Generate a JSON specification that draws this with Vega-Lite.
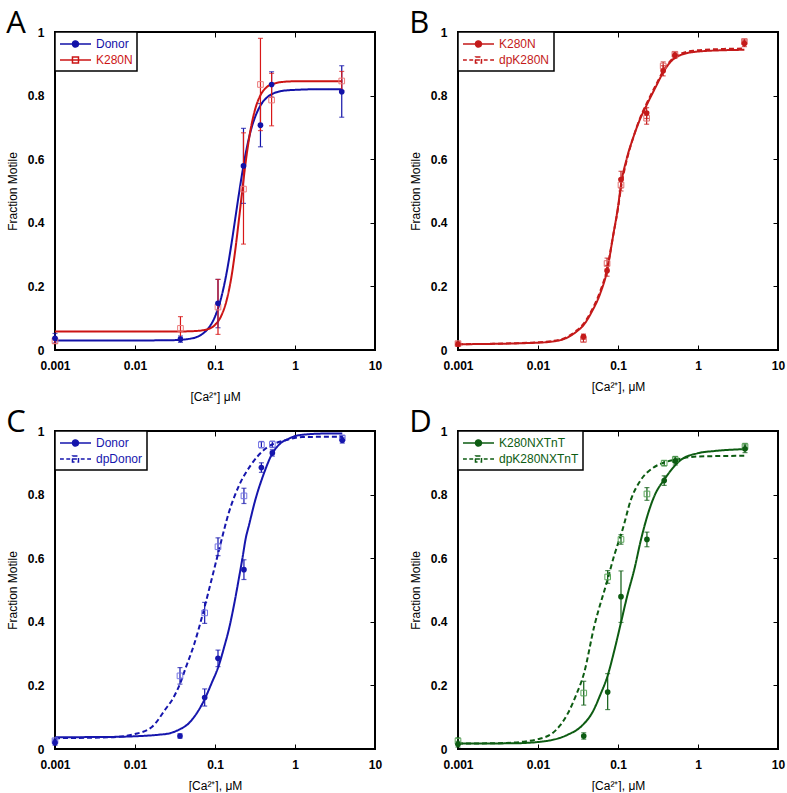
{
  "$schema": "https://vega.github.io/schema/vega-lite/v6.json",
  "background": "white",
  "padding": {"left": 5, "top": 7, "right": 0, "bottom": 0},
  "resolve": {"scale": {"color": "independent", "strokeDash": "independent"}, "legend": {"color": "independent", "strokeDash": "independent"}},
  "datasets": {
    "curves": [
      {"p":"A","s":"Donor","x":0.001,"y":0.030},{"p":"A","s":"Donor","x":0.01,"y":0.030},{"p":"A","s":"Donor","x":0.03,"y":0.031},{"p":"A","s":"Donor","x":0.05,"y":0.036},{"p":"A","s":"Donor","x":0.07,"y":0.051},{"p":"A","s":"Donor","x":0.08,"y":0.064},{"p":"A","s":"Donor","x":0.1,"y":0.105},{"p":"A","s":"Donor","x":0.12,"y":0.166},{"p":"A","s":"Donor","x":0.14,"y":0.244},{"p":"A","s":"Donor","x":0.16,"y":0.331},{"p":"A","s":"Donor","x":0.18,"y":0.417},{"p":"A","s":"Donor","x":0.2,"y":0.494},{"p":"A","s":"Donor","x":0.22,"y":0.56},{"p":"A","s":"Donor","x":0.25,"y":0.636},{"p":"A","s":"Donor","x":0.28,"y":0.69},{"p":"A","s":"Donor","x":0.32,"y":0.735},{"p":"A","s":"Donor","x":0.37,"y":0.769},{"p":"A","s":"Donor","x":0.45,"y":0.795},{"p":"A","s":"Donor","x":0.55,"y":0.808},{"p":"A","s":"Donor","x":0.7,"y":0.815},{"p":"A","s":"Donor","x":1,"y":0.818},{"p":"A","s":"Donor","x":2,"y":0.82},{"p":"A","s":"Donor","x":3.9,"y":0.82},
      {"p":"A","s":"K280N","x":0.001,"y":0.058},{"p":"A","s":"K280N","x":0.01,"y":0.058},{"p":"A","s":"K280N","x":0.03,"y":0.058},{"p":"A","s":"K280N","x":0.05,"y":0.059},{"p":"A","s":"K280N","x":0.07,"y":0.062},{"p":"A","s":"K280N","x":0.08,"y":0.065},{"p":"A","s":"K280N","x":0.1,"y":0.079},{"p":"A","s":"K280N","x":0.12,"y":0.108},{"p":"A","s":"K280N","x":0.14,"y":0.157},{"p":"A","s":"K280N","x":0.16,"y":0.228},{"p":"A","s":"K280N","x":0.18,"y":0.318},{"p":"A","s":"K280N","x":0.2,"y":0.414},{"p":"A","s":"K280N","x":0.22,"y":0.505},{"p":"A","s":"K280N","x":0.25,"y":0.618},{"p":"A","s":"K280N","x":0.28,"y":0.696},{"p":"A","s":"K280N","x":0.32,"y":0.76},{"p":"A","s":"K280N","x":0.37,"y":0.801},{"p":"A","s":"K280N","x":0.45,"y":0.828},{"p":"A","s":"K280N","x":0.55,"y":0.838},{"p":"A","s":"K280N","x":0.7,"y":0.843},{"p":"A","s":"K280N","x":1,"y":0.845},{"p":"A","s":"K280N","x":2,"y":0.845},{"p":"A","s":"K280N","x":3.9,"y":0.845},
      {"p":"B","s":"K280N","x":0.001,"y":0.018},{"p":"B","s":"K280N","x":0.01,"y":0.023},{"p":"B","s":"K280N","x":0.019,"y":0.031},{"p":"B","s":"K280N","x":0.03,"y":0.057},{"p":"B","s":"K280N","x":0.037,"y":0.078},{"p":"B","s":"K280N","x":0.047,"y":0.12},{"p":"B","s":"K280N","x":0.06,"y":0.178},{"p":"B","s":"K280N","x":0.073,"y":0.249},{"p":"B","s":"K280N","x":0.087,"y":0.36},{"p":"B","s":"K280N","x":0.1,"y":0.45},{"p":"B","s":"K280N","x":0.109,"y":0.52},{"p":"B","s":"K280N","x":0.128,"y":0.6},{"p":"B","s":"K280N","x":0.156,"y":0.67},{"p":"B","s":"K280N","x":0.188,"y":0.725},{"p":"B","s":"K280N","x":0.228,"y":0.77},{"p":"B","s":"K280N","x":0.3,"y":0.83},{"p":"B","s":"K280N","x":0.367,"y":0.873},{"p":"B","s":"K280N","x":0.514,"y":0.918},{"p":"B","s":"K280N","x":0.87,"y":0.937},{"p":"B","s":"K280N","x":2.27,"y":0.943},{"p":"B","s":"K280N","x":3.8,"y":0.944},
      {"p":"B","s":"dpK280N","x":0.001,"y":0.018},{"p":"B","s":"dpK280N","x":0.01,"y":0.024},{"p":"B","s":"dpK280N","x":0.019,"y":0.033},{"p":"B","s":"dpK280N","x":0.03,"y":0.06},{"p":"B","s":"dpK280N","x":0.037,"y":0.082},{"p":"B","s":"dpK280N","x":0.047,"y":0.125},{"p":"B","s":"dpK280N","x":0.06,"y":0.185},{"p":"B","s":"dpK280N","x":0.073,"y":0.255},{"p":"B","s":"dpK280N","x":0.087,"y":0.36},{"p":"B","s":"dpK280N","x":0.1,"y":0.445},{"p":"B","s":"dpK280N","x":0.109,"y":0.51},{"p":"B","s":"dpK280N","x":0.128,"y":0.595},{"p":"B","s":"dpK280N","x":0.156,"y":0.67},{"p":"B","s":"dpK280N","x":0.188,"y":0.728},{"p":"B","s":"dpK280N","x":0.228,"y":0.775},{"p":"B","s":"dpK280N","x":0.3,"y":0.835},{"p":"B","s":"dpK280N","x":0.367,"y":0.877},{"p":"B","s":"dpK280N","x":0.514,"y":0.922},{"p":"B","s":"dpK280N","x":0.87,"y":0.941},{"p":"B","s":"dpK280N","x":2.27,"y":0.947},{"p":"B","s":"dpK280N","x":3.8,"y":0.948},
      {"p":"C","s":"Donor","x":0.001,"y":0.037},{"p":"C","s":"Donor","x":0.005,"y":0.038},{"p":"C","s":"Donor","x":0.01,"y":0.04},{"p":"C","s":"Donor","x":0.02,"y":0.045},{"p":"C","s":"Donor","x":0.0266,"y":0.049},{"p":"C","s":"Donor","x":0.035,"y":0.06},{"p":"C","s":"Donor","x":0.047,"y":0.081},{"p":"C","s":"Donor","x":0.06,"y":0.115},{"p":"C","s":"Donor","x":0.075,"y":0.159},{"p":"C","s":"Donor","x":0.09,"y":0.205},{"p":"C","s":"Donor","x":0.112,"y":0.264},{"p":"C","s":"Donor","x":0.13,"y":0.32},{"p":"C","s":"Donor","x":0.15,"y":0.379},{"p":"C","s":"Donor","x":0.175,"y":0.46},{"p":"C","s":"Donor","x":0.2,"y":0.54},{"p":"C","s":"Donor","x":0.22,"y":0.599},{"p":"C","s":"Donor","x":0.242,"y":0.662},{"p":"C","s":"Donor","x":0.266,"y":0.704},{"p":"C","s":"Donor","x":0.322,"y":0.787},{"p":"C","s":"Donor","x":0.4,"y":0.86},{"p":"C","s":"Donor","x":0.52,"y":0.929},{"p":"C","s":"Donor","x":0.65,"y":0.96},{"p":"C","s":"Donor","x":0.84,"y":0.976},{"p":"C","s":"Donor","x":1,"y":0.984},{"p":"C","s":"Donor","x":1.5,"y":0.99},{"p":"C","s":"Donor","x":2.5,"y":0.992},{"p":"C","s":"Donor","x":3.9,"y":0.992},
      {"p":"C","s":"dpDonor","x":0.001,"y":0.034},{"p":"C","s":"dpDonor","x":0.005,"y":0.037},{"p":"C","s":"dpDonor","x":0.01,"y":0.047},{"p":"C","s":"dpDonor","x":0.0164,"y":0.07},{"p":"C","s":"dpDonor","x":0.024,"y":0.125},{"p":"C","s":"dpDonor","x":0.03,"y":0.16},{"p":"C","s":"dpDonor","x":0.0365,"y":0.205},{"p":"C","s":"dpDonor","x":0.043,"y":0.255},{"p":"C","s":"dpDonor","x":0.055,"y":0.33},{"p":"C","s":"dpDonor","x":0.073,"y":0.44},{"p":"C","s":"dpDonor","x":0.09,"y":0.53},{"p":"C","s":"dpDonor","x":0.112,"y":0.625},{"p":"C","s":"dpDonor","x":0.15,"y":0.746},{"p":"C","s":"dpDonor","x":0.2,"y":0.829},{"p":"C","s":"dpDonor","x":0.279,"y":0.892},{"p":"C","s":"dpDonor","x":0.43,"y":0.945},{"p":"C","s":"dpDonor","x":0.76,"y":0.971},{"p":"C","s":"dpDonor","x":1.23,"y":0.981},{"p":"C","s":"dpDonor","x":3.9,"y":0.982},
      {"p":"D","s":"K280NXTnT","x":0.001,"y":0.017},{"p":"D","s":"K280NXTnT","x":0.005,"y":0.018},{"p":"D","s":"K280NXTnT","x":0.01,"y":0.022},{"p":"D","s":"K280NXTnT","x":0.0236,"y":0.045},{"p":"D","s":"K280NXTnT","x":0.035,"y":0.072},{"p":"D","s":"K280NXTnT","x":0.0483,"y":0.117},{"p":"D","s":"K280NXTnT","x":0.06,"y":0.17},{"p":"D","s":"K280NXTnT","x":0.0743,"y":0.231},{"p":"D","s":"K280NXTnT","x":0.09,"y":0.31},{"p":"D","s":"K280NXTnT","x":0.109,"y":0.398},{"p":"D","s":"K280NXTnT","x":0.13,"y":0.48},{"p":"D","s":"K280NXTnT","x":0.16,"y":0.565},{"p":"D","s":"K280NXTnT","x":0.194,"y":0.659},{"p":"D","s":"K280NXTnT","x":0.234,"y":0.735},{"p":"D","s":"K280NXTnT","x":0.29,"y":0.8},{"p":"D","s":"K280NXTnT","x":0.378,"y":0.847},{"p":"D","s":"K280NXTnT","x":0.61,"y":0.909},{"p":"D","s":"K280NXTnT","x":0.99,"y":0.93},{"p":"D","s":"K280NXTnT","x":1.59,"y":0.937},{"p":"D","s":"K280NXTnT","x":3.87,"y":0.943},
      {"p":"D","s":"dpK280NXTnT","x":0.001,"y":0.017},{"p":"D","s":"dpK280NXTnT","x":0.004,"y":0.019},{"p":"D","s":"dpK280NXTnT","x":0.007,"y":0.024},{"p":"D","s":"dpK280NXTnT","x":0.01,"y":0.031},{"p":"D","s":"dpK280NXTnT","x":0.015,"y":0.049},{"p":"D","s":"dpK280NXTnT","x":0.019,"y":0.075},{"p":"D","s":"dpK280NXTnT","x":0.0236,"y":0.112},{"p":"D","s":"dpK280NXTnT","x":0.03,"y":0.17},{"p":"D","s":"dpK280NXTnT","x":0.0373,"y":0.235},{"p":"D","s":"dpK280NXTnT","x":0.0507,"y":0.388},{"p":"D","s":"dpK280NXTnT","x":0.0743,"y":0.534},{"p":"D","s":"dpK280NXTnT","x":0.09,"y":0.61},{"p":"D","s":"dpK280NXTnT","x":0.104,"y":0.659},{"p":"D","s":"dpK280NXTnT","x":0.114,"y":0.69},{"p":"D","s":"dpK280NXTnT","x":0.145,"y":0.784},{"p":"D","s":"dpK280NXTnT","x":0.194,"y":0.847},{"p":"D","s":"dpK280NXTnT","x":0.27,"y":0.883},{"p":"D","s":"dpK280NXTnT","x":0.378,"y":0.901},{"p":"D","s":"dpK280NXTnT","x":0.555,"y":0.911},{"p":"D","s":"dpK280NXTnT","x":0.99,"y":0.92},{"p":"D","s":"dpK280NXTnT","x":3.87,"y":0.922}
    ],
    "pts": [
      {"p":"A","s":"Donor","x":0.001,"y":0.037,"lo":0.022,"hi":0.052},{"p":"A","s":"Donor","x":0.037,"y":0.034,"lo":0.024,"hi":0.044},{"p":"A","s":"Donor","x":0.109,"y":0.147,"lo":0.07,"hi":0.222},{"p":"A","s":"Donor","x":0.227,"y":0.579,"lo":0.461,"hi":0.697},{"p":"A","s":"Donor","x":0.37,"y":0.707,"lo":0.639,"hi":0.775},{"p":"A","s":"Donor","x":0.51,"y":0.835,"lo":0.795,"hi":0.875},{"p":"A","s":"Donor","x":3.84,"y":0.812,"lo":0.732,"hi":0.894},
      {"p":"A","s":"K280N","x":0.001,"y":0.029,"lo":0.02,"hi":0.038},{"p":"A","s":"K280N","x":0.037,"y":0.068,"lo":0.03,"hi":0.105},{"p":"A","s":"K280N","x":0.109,"y":0.135,"lo":0.049,"hi":0.222},{"p":"A","s":"K280N","x":0.227,"y":0.506,"lo":0.333,"hi":0.683},{"p":"A","s":"K280N","x":0.37,"y":0.835,"lo":0.69,"hi":0.98},{"p":"A","s":"K280N","x":0.51,"y":0.786,"lo":0.705,"hi":0.87},{"p":"A","s":"K280N","x":3.84,"y":0.846,"lo":0.816,"hi":0.876},
      {"p":"B","s":"K280N","x":0.001,"y":0.018,"lo":0.012,"hi":0.024},{"p":"B","s":"K280N","x":0.037,"y":0.042,"lo":0.034,"hi":0.05},{"p":"B","s":"K280N","x":0.073,"y":0.249,"lo":0.232,"hi":0.266},{"p":"B","s":"K280N","x":0.109,"y":0.536,"lo":0.51,"hi":0.562},{"p":"B","s":"K280N","x":0.228,"y":0.745,"lo":0.728,"hi":0.762},{"p":"B","s":"K280N","x":0.367,"y":0.878,"lo":0.862,"hi":0.894},{"p":"B","s":"K280N","x":0.514,"y":0.927,"lo":0.917,"hi":0.937},{"p":"B","s":"K280N","x":3.8,"y":0.964,"lo":0.954,"hi":0.974},
      {"p":"B","s":"dpK280N","x":0.001,"y":0.02,"lo":0.014,"hi":0.026},{"p":"B","s":"dpK280N","x":0.037,"y":0.033,"lo":0.025,"hi":0.041},{"p":"B","s":"dpK280N","x":0.073,"y":0.272,"lo":0.255,"hi":0.289},{"p":"B","s":"dpK280N","x":0.109,"y":0.519,"lo":0.5,"hi":0.538},{"p":"B","s":"dpK280N","x":0.228,"y":0.729,"lo":0.71,"hi":0.748},{"p":"B","s":"dpK280N","x":0.367,"y":0.893,"lo":0.88,"hi":0.906},{"p":"B","s":"dpK280N","x":0.514,"y":0.93,"lo":0.922,"hi":0.938},{"p":"B","s":"dpK280N","x":3.8,"y":0.97,"lo":0.962,"hi":0.978},
      {"p":"C","s":"Donor","x":0.001,"y":0.02,"lo":0.012,"hi":0.028},{"p":"C","s":"Donor","x":0.0365,"y":0.041,"lo":0.034,"hi":0.048},{"p":"C","s":"Donor","x":0.0743,"y":0.162,"lo":0.135,"hi":0.189},{"p":"C","s":"Donor","x":0.109,"y":0.285,"lo":0.259,"hi":0.311},{"p":"C","s":"Donor","x":0.23,"y":0.564,"lo":0.533,"hi":0.595},{"p":"C","s":"Donor","x":0.38,"y":0.885,"lo":0.87,"hi":0.9},{"p":"C","s":"Donor","x":0.521,"y":0.931,"lo":0.921,"hi":0.941},{"p":"C","s":"Donor","x":3.9,"y":0.971,"lo":0.962,"hi":0.98},
      {"p":"C","s":"dpDonor","x":0.001,"y":0.026,"lo":0.021,"hi":0.031},{"p":"C","s":"dpDonor","x":0.0365,"y":0.23,"lo":0.204,"hi":0.256},{"p":"C","s":"dpDonor","x":0.0743,"y":0.428,"lo":0.395,"hi":0.461},{"p":"C","s":"dpDonor","x":0.109,"y":0.636,"lo":0.608,"hi":0.664},{"p":"C","s":"dpDonor","x":0.23,"y":0.796,"lo":0.772,"hi":0.82},{"p":"C","s":"dpDonor","x":0.38,"y":0.957,"lo":0.947,"hi":0.967},{"p":"C","s":"dpDonor","x":0.521,"y":0.958,"lo":0.948,"hi":0.968},{"p":"C","s":"dpDonor","x":3.9,"y":0.978,"lo":0.97,"hi":0.986},
      {"p":"D","s":"K280NXTnT","x":0.001,"y":0.015,"lo":0.006,"hi":0.024},{"p":"D","s":"K280NXTnT","x":0.0373,"y":0.041,"lo":0.031,"hi":0.051},{"p":"D","s":"K280NXTnT","x":0.0743,"y":0.179,"lo":0.124,"hi":0.237},{"p":"D","s":"K280NXTnT","x":0.109,"y":0.479,"lo":0.398,"hi":0.56},{"p":"D","s":"K280NXTnT","x":0.23,"y":0.659,"lo":0.636,"hi":0.682},{"p":"D","s":"K280NXTnT","x":0.378,"y":0.844,"lo":0.829,"hi":0.859},{"p":"D","s":"K280NXTnT","x":0.52,"y":0.906,"lo":0.893,"hi":0.919},{"p":"D","s":"K280NXTnT","x":3.87,"y":0.944,"lo":0.932,"hi":0.956},
      {"p":"D","s":"dpK280NXTnT","x":0.001,"y":0.025,"lo":0.015,"hi":0.035},{"p":"D","s":"dpK280NXTnT","x":0.0373,"y":0.176,"lo":0.138,"hi":0.213},{"p":"D","s":"dpK280NXTnT","x":0.0743,"y":0.541,"lo":0.521,"hi":0.561},{"p":"D","s":"dpK280NXTnT","x":0.109,"y":0.659,"lo":0.644,"hi":0.674},{"p":"D","s":"dpK280NXTnT","x":0.23,"y":0.802,"lo":0.782,"hi":0.822},{"p":"D","s":"dpK280NXTnT","x":0.378,"y":0.899,"lo":0.891,"hi":0.907},{"p":"D","s":"dpK280NXTnT","x":0.52,"y":0.91,"lo":0.9,"hi":0.92},{"p":"D","s":"dpK280NXTnT","x":3.87,"y":0.951,"lo":0.941,"hi":0.961}
    ]
  },
  "spacing": 3,
  "vconcat": [
    {
      "spacing": 25,
      "resolve": {"scale": {"color": "independent", "strokeDash": "independent"}, "legend": {"color": "independent", "strokeDash": "independent"}},
      "hconcat": [
        {
          "width": 320, "height": 318,
          "title": {"text": "A"},
          "resolve": {"axis": {"x": "independent", "y": "independent"}},
          "layer": [
            {
              "data": {"name": "curves"},
              "transform": [{"filter": "datum.p === 'A'"}],
              "mark": {"type": "line", "strokeWidth": 2, "interpolate": "monotone"},
              "encoding": {
                "x": {"field": "x", "type": "quantitative", "scale": {"type": "log", "domain": [0.001, 10]}, "axis": {"orient": "bottom", "values": [0.001, 0.01, 0.1, 1, 10], "format": "~g", "labelFlush": false, "labelOverlap": false, "tickSize": -5, "labelPadding": 15, "title": "[Ca²⁺] μM", "titlePadding": 20}},
                "y": {"field": "y", "type": "quantitative", "scale": {"domain": [0, 1]}, "axis": {"orient": "left", "values": [0, 0.2, 0.4, 0.6, 0.8, 1], "format": "~g", "ticks": false, "labelPadding": 11, "title": "Fraction Motile", "titlePadding": 8}},
                "color": {"field": "s", "type": "nominal", "scale": {"domain": ["Donor", "K280N"], "range": ["#1212a8", "#cc1414"]},
                  "legend": {"title": null, "orient": "top-left", "offset": 0, "strokeColor": "black", "fillColor": "white", "padding": 4, "labelFontSize": 12, "labelFont": "Liberation Sans", "symbolSize": 196, "rowPadding": 1, "labelOffset": 21,
                    "encode": {
                      "legend": {"update": {"strokeWidth": {"value": 1.5}}},
                      "labels": {"update": {"fill": {"signal": "datum.index === 0 ? '#1212a8' : '#cc1414'"}}},
                      "symbols": {"update": {
                        "shape": {"signal": "datum.index === 0 ? 'M-1,0H3.43M0.78,0A0.43,0.43,0,1,1,1.64,0A0.43,0.43,0,1,1,0.78,0Z' : 'M-1,0H3.43M0.78,-0.43H1.64V0.43H0.78Z'"},
                        "fill": {"signal": "datum.index === 0 ? '#1212a8' : 'transparent'"},
                        "stroke": {"signal": "datum.index === 0 ? '#1212a8' : '#cc1414'"},
                        "strokeWidth": {"value": 1.5}, "opacity": {"value": 1}}}
                    }}},
                "strokeDash": {"field": "s", "type": "nominal", "scale": {"domain": ["Donor", "K280N"], "range": [[1, 0], [1, 0]]}, "legend": null}
              }
            },
            {
              "data": {"name": "pts"},
              "transform": [{"filter": "datum.p === 'A' && datum.s === 'Donor'"}],
              "mark": {"type": "errorbar", "ticks": {"size": 5}, "color": "#1212a8", "thickness": 1.2},
              "encoding": {
                "x": {"field": "x", "type": "quantitative", "scale": {"type": "log", "domain": [0.001, 10]}, "axis": null},
                "y": {"field": "lo", "type": "quantitative", "scale": {"domain": [0, 1]}, "axis": null},
                "y2": {"field": "hi"}
              }
            },
            {
              "data": {"name": "pts"},
              "transform": [{"filter": "datum.p === 'A' && datum.s === 'K280N'"}],
              "mark": {"type": "errorbar", "ticks": {"size": 5}, "color": "#d81818", "thickness": 1.2},
              "encoding": {
                "x": {"field": "x", "type": "quantitative", "scale": {"type": "log", "domain": [0.001, 10]}, "axis": null},
                "y": {"field": "lo", "type": "quantitative", "scale": {"domain": [0, 1]}, "axis": null},
                "y2": {"field": "hi"}
              }
            },
            {
              "data": {"name": "pts"},
              "transform": [{"filter": "datum.p === 'A' && datum.s === 'K280N'"}],
              "mark": {"type": "point", "shape": "square", "filled": false, "color": "#ec7a7a", "size": 32, "strokeWidth": 1, "opacity": 1},
              "encoding": {
                "x": {"field": "x", "type": "quantitative", "scale": {"type": "log", "domain": [0.001, 10]}, "axis": null},
                "y": {"field": "y", "type": "quantitative", "scale": {"domain": [0, 1]}, "axis": null}
              }
            },
            {
              "data": {"name": "pts"},
              "transform": [{"filter": "datum.p === 'A' && datum.s === 'Donor'"}],
              "mark": {"type": "point", "shape": "circle", "filled": true, "color": "#1212a8", "size": 32, "opacity": 1},
              "encoding": {
                "x": {"field": "x", "type": "quantitative", "scale": {"type": "log", "domain": [0.001, 10]}, "axis": null},
                "y": {"field": "y", "type": "quantitative", "scale": {"domain": [0, 1]}, "axis": null}
              }
            },
            {
              "data": {"name": "pts"},
              "transform": [{"filter": "datum.p === 'A'"}],
              "mark": {"type": "point", "opacity": 0},
              "encoding": {
                "x": {"field": "x", "type": "quantitative", "scale": {"type": "log", "domain": [0.001, 10]}, "axis": {"orient": "top", "values": [0.01, 0.1, 1], "labels": false, "title": null, "tickSize": -5}},
                "y": {"field": "y", "type": "quantitative", "scale": {"domain": [0, 1]}, "axis": {"orient": "right", "values": [0.2, 0.4, 0.6, 0.8], "labels": false, "title": null, "tickSize": -5}}
              }
            }
          ]
        },
        {
          "width": 320, "height": 318,
          "title": {"text": "B"},
          "resolve": {"axis": {"x": "independent", "y": "independent"}},
          "layer": [
            {
              "data": {"name": "curves"},
              "transform": [{"filter": "datum.p === 'B'"}],
              "mark": {"type": "line", "strokeWidth": 2, "interpolate": "monotone"},
              "encoding": {
                "x": {"field": "x", "type": "quantitative", "scale": {"type": "log", "domain": [0.001, 10]}, "axis": {"orient": "bottom", "values": [0.001, 0.01, 0.1, 1, 10], "format": "~g", "labelFlush": false, "labelOverlap": false, "tickSize": -5, "labelPadding": 15, "title": "[Ca²⁺], μM", "titlePadding": 10}},
                "y": {"field": "y", "type": "quantitative", "scale": {"domain": [0, 1]}, "axis": {"orient": "left", "values": [0, 0.2, 0.4, 0.6, 0.8, 1], "format": "~g", "ticks": false, "labelPadding": 11, "title": "Fraction Motile", "titlePadding": 8}},
                "color": {"field": "s", "type": "nominal", "scale": {"domain": ["K280N", "dpK280N"], "range": ["#c41a1a", "#c41a1a"]},
                  "legend": {"title": null, "orient": "top-left", "offset": 0, "strokeColor": "black", "fillColor": "white", "padding": 4, "labelFontSize": 12, "labelFont": "Liberation Sans", "symbolSize": 196, "rowPadding": 1, "labelOffset": 21,
                    "encode": {
                      "legend": {"update": {"strokeWidth": {"value": 1.5}}},
                      "labels": {"update": {"fill": {"value": "#c41a1a"}}},
                      "symbols": {"update": {
                        "shape": {"signal": "datum.index === 0 ? 'M-1,0H3.43M0.78,0A0.43,0.43,0,1,1,1.64,0A0.43,0.43,0,1,1,0.78,0Z' : 'M-1,0H-0.45M-0.1,0H0.45M0.7,0H1.72M1.97,0H2.52M2.88,0H3.43M0.78,-0.43H1.64V0.43H0.78Z'"},
                        "fill": {"signal": "datum.index === 0 ? '#c41a1a' : 'transparent'"},
                        "stroke": {"value": "#c41a1a"},
                        "strokeWidth": {"value": 1.5}, "opacity": {"value": 1}}}
                    }}},
                "strokeDash": {"field": "s", "type": "nominal", "scale": {"domain": ["K280N", "dpK280N"], "range": [[1, 0], [5, 3]]}, "legend": null}
              }
            },
            {
              "data": {"name": "pts"},
              "transform": [{"filter": "datum.p === 'B'"}],
              "mark": {"type": "errorbar", "ticks": {"size": 5}, "color": "#c41a1a", "thickness": 1.2},
              "encoding": {
                "x": {"field": "x", "type": "quantitative", "scale": {"type": "log", "domain": [0.001, 10]}, "axis": null},
                "y": {"field": "lo", "type": "quantitative", "scale": {"domain": [0, 1]}, "axis": null},
                "y2": {"field": "hi"}
              }
            },
            {
              "data": {"name": "pts"},
              "transform": [{"filter": "datum.p === 'B' && datum.s === 'dpK280N'"}],
              "mark": {"type": "point", "shape": "square", "filled": false, "color": "#e07070", "size": 32, "strokeWidth": 1, "opacity": 1},
              "encoding": {
                "x": {"field": "x", "type": "quantitative", "scale": {"type": "log", "domain": [0.001, 10]}, "axis": null},
                "y": {"field": "y", "type": "quantitative", "scale": {"domain": [0, 1]}, "axis": null}
              }
            },
            {
              "data": {"name": "pts"},
              "transform": [{"filter": "datum.p === 'B' && datum.s === 'K280N'"}],
              "mark": {"type": "point", "shape": "circle", "filled": true, "color": "#c41a1a", "size": 32, "opacity": 1},
              "encoding": {
                "x": {"field": "x", "type": "quantitative", "scale": {"type": "log", "domain": [0.001, 10]}, "axis": null},
                "y": {"field": "y", "type": "quantitative", "scale": {"domain": [0, 1]}, "axis": null}
              }
            },
            {
              "data": {"name": "pts"},
              "transform": [{"filter": "datum.p === 'B'"}],
              "mark": {"type": "point", "opacity": 0},
              "encoding": {
                "x": {"field": "x", "type": "quantitative", "scale": {"type": "log", "domain": [0.001, 10]}, "axis": {"orient": "top", "values": [0.01, 0.1, 1], "labels": false, "title": null, "tickSize": -5}},
                "y": {"field": "y", "type": "quantitative", "scale": {"domain": [0, 1]}, "axis": {"orient": "right", "values": [0.2, 0.4, 0.6, 0.8], "labels": false, "title": null, "tickSize": -5}}
              }
            }
          ]
        }
      ]
    },
    {
      "spacing": 25,
      "resolve": {"scale": {"color": "independent", "strokeDash": "independent"}, "legend": {"color": "independent", "strokeDash": "independent"}},
      "hconcat": [
        {
          "width": 320, "height": 318,
          "title": {"text": "C"},
          "resolve": {"axis": {"x": "independent", "y": "independent"}},
          "layer": [
            {
              "data": {"name": "curves"},
              "transform": [{"filter": "datum.p === 'C'"}],
              "mark": {"type": "line", "strokeWidth": 2, "interpolate": "monotone"},
              "encoding": {
                "x": {"field": "x", "type": "quantitative", "scale": {"type": "log", "domain": [0.001, 10]}, "axis": {"orient": "bottom", "values": [0.001, 0.01, 0.1, 1, 10], "format": "~g", "labelFlush": false, "labelOverlap": false, "tickSize": -5, "labelPadding": 15, "title": "[Ca²⁺], μM", "titlePadding": 10}},
                "y": {"field": "y", "type": "quantitative", "scale": {"domain": [0, 1]}, "axis": {"orient": "left", "values": [0, 0.2, 0.4, 0.6, 0.8, 1], "format": "~g", "ticks": false, "labelPadding": 11, "title": "Fraction Motile", "titlePadding": 8}},
                "color": {"field": "s", "type": "nominal", "scale": {"domain": ["Donor", "dpDonor"], "range": ["#1616ad", "#1616ad"]},
                  "legend": {"title": null, "orient": "top-left", "offset": 0, "strokeColor": "black", "fillColor": "white", "padding": 4, "labelFontSize": 12, "labelFont": "Liberation Sans", "symbolSize": 196, "rowPadding": 1, "labelOffset": 21,
                    "encode": {
                      "legend": {"update": {"strokeWidth": {"value": 1.5}}},
                      "labels": {"update": {"fill": {"value": "#1616ad"}}},
                      "symbols": {"update": {
                        "shape": {"signal": "datum.index === 0 ? 'M-1,0H3.43M0.78,0A0.43,0.43,0,1,1,1.64,0A0.43,0.43,0,1,1,0.78,0Z' : 'M-1,0H-0.45M-0.1,0H0.45M0.7,0H1.72M1.97,0H2.52M2.88,0H3.43M0.78,-0.43H1.64V0.43H0.78Z'"},
                        "fill": {"signal": "datum.index === 0 ? '#1616ad' : 'transparent'"},
                        "stroke": {"value": "#1616ad"},
                        "strokeWidth": {"value": 1.5}, "opacity": {"value": 1}}}
                    }}},
                "strokeDash": {"field": "s", "type": "nominal", "scale": {"domain": ["Donor", "dpDonor"], "range": [[1, 0], [5, 3]]}, "legend": null}
              }
            },
            {
              "data": {"name": "pts"},
              "transform": [{"filter": "datum.p === 'C'"}],
              "mark": {"type": "errorbar", "ticks": {"size": 5}, "color": "#1616ad", "thickness": 1.2},
              "encoding": {
                "x": {"field": "x", "type": "quantitative", "scale": {"type": "log", "domain": [0.001, 10]}, "axis": null},
                "y": {"field": "lo", "type": "quantitative", "scale": {"domain": [0, 1]}, "axis": null},
                "y2": {"field": "hi"}
              }
            },
            {
              "data": {"name": "pts"},
              "transform": [{"filter": "datum.p === 'C' && datum.s === 'dpDonor'"}],
              "mark": {"type": "point", "shape": "square", "filled": false, "color": "#7474e4", "size": 32, "strokeWidth": 1, "opacity": 1},
              "encoding": {
                "x": {"field": "x", "type": "quantitative", "scale": {"type": "log", "domain": [0.001, 10]}, "axis": null},
                "y": {"field": "y", "type": "quantitative", "scale": {"domain": [0, 1]}, "axis": null}
              }
            },
            {
              "data": {"name": "pts"},
              "transform": [{"filter": "datum.p === 'C' && datum.s === 'Donor'"}],
              "mark": {"type": "point", "shape": "circle", "filled": true, "color": "#1616ad", "size": 32, "opacity": 1},
              "encoding": {
                "x": {"field": "x", "type": "quantitative", "scale": {"type": "log", "domain": [0.001, 10]}, "axis": null},
                "y": {"field": "y", "type": "quantitative", "scale": {"domain": [0, 1]}, "axis": null}
              }
            },
            {
              "data": {"name": "pts"},
              "transform": [{"filter": "datum.p === 'C'"}],
              "mark": {"type": "point", "opacity": 0},
              "encoding": {
                "x": {"field": "x", "type": "quantitative", "scale": {"type": "log", "domain": [0.001, 10]}, "axis": {"orient": "top", "values": [0.01, 0.1, 1], "labels": false, "title": null, "tickSize": -5}},
                "y": {"field": "y", "type": "quantitative", "scale": {"domain": [0, 1]}, "axis": {"orient": "right", "values": [0.2, 0.4, 0.6, 0.8], "labels": false, "title": null, "tickSize": -5}}
              }
            }
          ]
        },
        {
          "width": 320, "height": 318,
          "title": {"text": "D"},
          "resolve": {"axis": {"x": "independent", "y": "independent"}},
          "layer": [
            {
              "data": {"name": "curves"},
              "transform": [{"filter": "datum.p === 'D'"}],
              "mark": {"type": "line", "strokeWidth": 2, "interpolate": "monotone"},
              "encoding": {
                "x": {"field": "x", "type": "quantitative", "scale": {"type": "log", "domain": [0.001, 10]}, "axis": {"orient": "bottom", "values": [0.001, 0.01, 0.1, 1, 10], "format": "~g", "labelFlush": false, "labelOverlap": false, "tickSize": -5, "labelPadding": 15, "title": "[Ca²⁺], μM", "titlePadding": 10}},
                "y": {"field": "y", "type": "quantitative", "scale": {"domain": [0, 1]}, "axis": {"orient": "left", "values": [0, 0.2, 0.4, 0.6, 0.8, 1], "format": "~g", "ticks": false, "labelPadding": 11, "title": "Fraction Motile", "titlePadding": 8}},
                "color": {"field": "s", "type": "nominal", "scale": {"domain": ["K280NXTnT", "dpK280NXTnT"], "range": ["#0d5c12", "#0d5c12"]},
                  "legend": {"title": null, "orient": "top-left", "offset": 0, "strokeColor": "black", "fillColor": "white", "padding": 4, "labelFontSize": 12, "labelFont": "Liberation Sans", "symbolSize": 196, "rowPadding": 1, "labelOffset": 21,
                    "encode": {
                      "legend": {"update": {"strokeWidth": {"value": 1.5}}},
                      "labels": {"update": {"fill": {"value": "#0d5c12"}}},
                      "symbols": {"update": {
                        "shape": {"signal": "datum.index === 0 ? 'M-1,0H3.43M0.78,0A0.43,0.43,0,1,1,1.64,0A0.43,0.43,0,1,1,0.78,0Z' : 'M-1,0H-0.45M-0.1,0H0.45M0.7,0H1.72M1.97,0H2.52M2.88,0H3.43M0.78,-0.43H1.64V0.43H0.78Z'"},
                        "fill": {"signal": "datum.index === 0 ? '#0d5c12' : 'transparent'"},
                        "stroke": {"value": "#0d5c12"},
                        "strokeWidth": {"value": 1.5}, "opacity": {"value": 1}}}
                    }}},
                "strokeDash": {"field": "s", "type": "nominal", "scale": {"domain": ["K280NXTnT", "dpK280NXTnT"], "range": [[1, 0], [5, 3]]}, "legend": null}
              }
            },
            {
              "data": {"name": "pts"},
              "transform": [{"filter": "datum.p === 'D'"}],
              "mark": {"type": "errorbar", "ticks": {"size": 5}, "color": "#0d5c12", "thickness": 1.2},
              "encoding": {
                "x": {"field": "x", "type": "quantitative", "scale": {"type": "log", "domain": [0.001, 10]}, "axis": null},
                "y": {"field": "lo", "type": "quantitative", "scale": {"domain": [0, 1]}, "axis": null},
                "y2": {"field": "hi"}
              }
            },
            {
              "data": {"name": "pts"},
              "transform": [{"filter": "datum.p === 'D' && datum.s === 'dpK280NXTnT'"}],
              "mark": {"type": "point", "shape": "square", "filled": false, "color": "#5aa55a", "size": 32, "strokeWidth": 1, "opacity": 1},
              "encoding": {
                "x": {"field": "x", "type": "quantitative", "scale": {"type": "log", "domain": [0.001, 10]}, "axis": null},
                "y": {"field": "y", "type": "quantitative", "scale": {"domain": [0, 1]}, "axis": null}
              }
            },
            {
              "data": {"name": "pts"},
              "transform": [{"filter": "datum.p === 'D' && datum.s === 'K280NXTnT'"}],
              "mark": {"type": "point", "shape": "circle", "filled": true, "color": "#0d5c12", "size": 32, "opacity": 1},
              "encoding": {
                "x": {"field": "x", "type": "quantitative", "scale": {"type": "log", "domain": [0.001, 10]}, "axis": null},
                "y": {"field": "y", "type": "quantitative", "scale": {"domain": [0, 1]}, "axis": null}
              }
            },
            {
              "data": {"name": "pts"},
              "transform": [{"filter": "datum.p === 'D'"}],
              "mark": {"type": "point", "opacity": 0},
              "encoding": {
                "x": {"field": "x", "type": "quantitative", "scale": {"type": "log", "domain": [0.001, 10]}, "axis": {"orient": "top", "values": [0.01, 0.1, 1], "labels": false, "title": null, "tickSize": -5}},
                "y": {"field": "y", "type": "quantitative", "scale": {"domain": [0, 1]}, "axis": {"orient": "right", "values": [0.2, 0.4, 0.6, 0.8], "labels": false, "title": null, "tickSize": -5}}
              }
            }
          ]
        }
      ]
    }
  ],
  "config": {
    "view": {"stroke": "black", "strokeWidth": 2},
    "font": "Liberation Sans",
    "axis": {"labelFont": "Liberation Sans", "labelFontSize": 12, "labelFontWeight": "bold", "labelColor": "black", "titleFont": "Liberation Sans", "titleFontSize": 12, "titleFontWeight": "normal", "titleColor": "black", "domain": false, "grid": false, "tickColor": "black", "tickWidth": 1},
    "title": {"font": "Open Sans", "fontSize": 31, "fontWeight": "normal", "anchor": "start", "frame": "bounds", "offset": -14, "color": "black"}
  }
}
